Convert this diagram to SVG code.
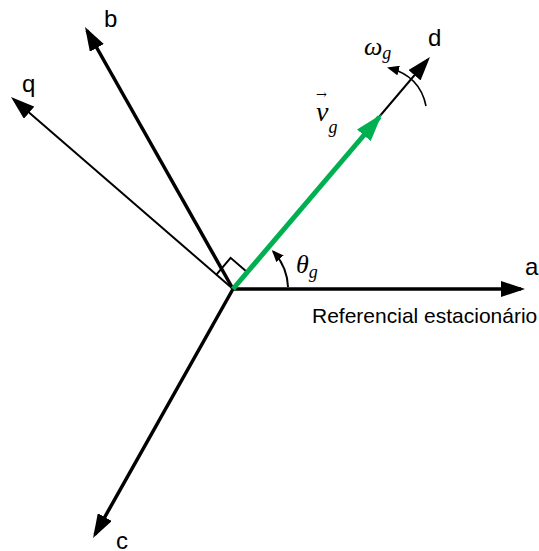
<svg xmlns="http://www.w3.org/2000/svg" width="539" height="551" viewBox="0 0 539 551">
<style>
.ax{stroke:#000;fill:none;stroke-linecap:butt}
.thick{stroke-width:3.5}
.thin{stroke-width:2}
.lbl{font-family:"Liberation Sans",Arial,sans-serif;font-size:24px;fill:#000}
.ref{font-family:"Liberation Sans",Arial,sans-serif;font-size:21px;fill:#000}
.mth{font-family:"Liberation Serif","Times New Roman",serif;font-style:italic;fill:#000}
</style>
<defs>
<marker id="ah" viewBox="0 0 24 16" refX="20" refY="8" markerWidth="24" markerHeight="16" markerUnits="userSpaceOnUse" orient="auto"><path d="M0,0 L24,8 L0,16 z" fill="#000"/></marker>
<marker id="ahg" viewBox="0 0 28 18" refX="24" refY="9" markerWidth="28" markerHeight="18" markerUnits="userSpaceOnUse" orient="auto"><path d="M0,0 L28,9 L0,18 z" fill="#00b050"/></marker>
<marker id="ahs" viewBox="0 0 12 10" refX="10" refY="5" markerWidth="12" markerHeight="10" markerUnits="userSpaceOnUse" orient="auto"><path d="M0,0 L12,5 L0,10 z" fill="#000"/></marker>
</defs>
<g id="connectors">
<line id="axis-a" class="ax thick" x1="233" y1="289" x2="521" y2="289" marker-end="url(#ah)"/>
<line id="axis-b" class="ax thick" x1="233" y1="289" x2="87" y2="30.5" marker-end="url(#ah)"/>
<line id="axis-c" class="ax thick" x1="233" y1="289" x2="95" y2="534.5" marker-end="url(#ah)"/>
<line id="axis-q" class="ax thin" x1="233" y1="289" x2="14" y2="99.6" marker-end="url(#ah)"/>
<line id="axis-d" class="ax thin" x1="233" y1="289" x2="427.4" y2="60" marker-end="url(#ah)"/>
<path id="right-angle" class="ax thin" d="M216.4,274.6 L230.6,257.8 L247.3,272.2"/>
<line id="vector-vg" x1="233" y1="289" x2="379.4" y2="117" stroke="#00b050" stroke-width="5" marker-end="url(#ahg)"/>
<path id="arc-theta" class="ax" stroke-width="2" d="M288,287 A55,55 0 0 0 273.2,251.5" marker-end="url(#ahs)"/>
<path id="arc-omega" class="ax" stroke-width="1.6" d="M426,106 Q420,76 389,68" marker-end="url(#ahs)"/>
</g>
<g id="node-a"><text class="lbl" x="525" y="275">a</text></g>
<g id="node-b"><text class="lbl" x="104" y="27">b</text></g>
<g id="node-c"><text class="lbl" x="116" y="549">c</text></g>
<g id="node-q"><text class="lbl" x="22" y="92">q</text></g>
<g id="node-d"><text class="lbl" x="428" y="46">d</text></g>
<g id="label-ref"><text class="ref" x="312" y="323">Referencial estacionário</text></g>
<g id="label-theta"><text class="mth" x="296" y="273" font-size="26">θ<tspan font-size="18" dy="5">g</tspan></text></g>
<g id="label-omega"><text class="mth" x="364" y="55" font-size="26">ω<tspan font-size="18" dy="4">g</tspan></text></g>
<g id="label-vg"><text class="mth" x="316" y="121" font-size="28">v<tspan font-size="18" dy="12">g</tspan></text><text x="316" y="99" font-family="'DejaVu Serif',serif" font-size="13">→</text></g>
</svg>
